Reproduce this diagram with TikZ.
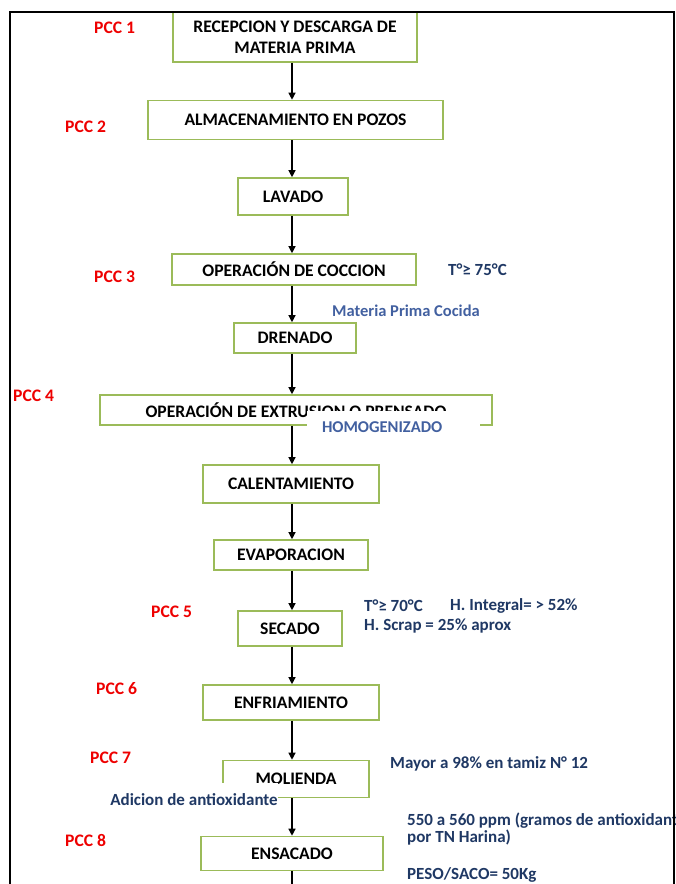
\documentclass[tikz,border=0pt]{standalone}
\usepackage{fontspec}
\setmainfont{Carlito}
\usetikzlibrary{arrows.meta}
\definecolor{verdecaja}{RGB}{155,187,89}
\definecolor{rojopcc}{RGB}{238,0,0}
\definecolor{azulnota}{RGB}{31,56,100}
\definecolor{azulclaro}{RGB}{66,96,160}
\tikzset{
  paso/.style={draw=verdecaja,line width=1.6pt,fill=white,inner sep=0pt,align=center,
               font=\fontsize{17.6}{20.5}\selectfont\bfseries},
  pcc/.style={anchor=west,inner sep=0pt,text=rojopcc,font=\fontsize{17.6}{20}\selectfont\bfseries},
  nota/.style={anchor=west,inner sep=0pt,text=azulnota,font=\fontsize{17}{20}\selectfont\bfseries},
  notaclara/.style={nota,text=azulclaro,font=\fontsize{16.5}{20}\selectfont\bfseries},
  tapa/.style={fill=white,inner sep=0pt},
  flujo/.style={-{Triangle[length=7pt,width=7pt]},line width=1.2pt},
}

\begin{document}
\begin{tikzpicture}[x=1pt,y=-1pt]
  \useasboundingbox (0,0) rectangle (676,884);
  \clip (0,0) rectangle (676,884);
  \coordinate (eje) at (292,0);

  % pasos del proceso
  \node[paso,minimum width=244pt,minimum height=50pt] (recep) at (295,37) {RECEPCION Y DESCARGA DE\\MATERIA PRIMA};
  \node[paso,minimum width=295pt,minimum height=39pt] (almac) at (295.5,120) {ALMACENAMIENTO EN POZOS};
  \node[paso,minimum width=110pt,minimum height=37pt] (lavado) at (293,196.5) {LAVADO};
  \node[paso,minimum width=244pt,minimum height=31pt] (coccion) at (294,269.5) {OPERACIÓN DE COCCION};
  \node[paso,minimum width=122pt,minimum height=30pt] (drenado) at (295,338) {DRENADO};
  \node[paso,minimum width=392pt,minimum height=30pt] (extrus) at (296,410) {OPERACIÓN DE EXTRUSION O PRENSADO};
  \node[paso,minimum width=176pt,minimum height=38pt] (calent) at (291,484) {CALENTAMIENTO};
  \node[paso,minimum width=154pt,minimum height=30pt] (evapor) at (291,555) {EVAPORACION};
  \node[paso,minimum width=104pt,minimum height=35pt] (secado) at (290,628.5) {SECADO};
  \node[paso,minimum width=176pt,minimum height=35pt] (enfria) at (291,702.5) {ENFRIAMIENTO};
  \node[paso,minimum width=146pt,minimum height=37pt] (molienda) at (296,779) {MOLIENDA};
  \node[paso,minimum width=182pt,minimum height=34pt] (ensacado) at (292,853.5) {ENSACADO};

  % etiquetas con fondo blanco que tapan parte de las cajas
  \node[tapa,minimum height=32pt,text width=143pt,inner xsep=15pt,align=left,
        text=azulclaro,font=\fontsize{16.5}{20}\selectfont\bfseries] (homog) at (393.5,427) {HOMOGENIZADO};
  \node[tapa,minimum width=166pt,minimum height=34pt,text=azulnota,
        font=\fontsize{17}{20}\selectfont\bfseries] (adicion) at (194,800) {Adicion de antioxidante};

  % flechas
  \foreach \a/\b in {recep/almac,almac/lavado,lavado/coccion,coccion/drenado,drenado/extrus,
                     extrus/calent,calent/evapor,evapor/secado,secado/enfria,enfria/molienda,molienda/ensacado}
    \draw[flujo] (\a.south -| eje) -- (\b.north -| eje);
  \coordinate (fin) at (292,884);
  \draw[line width=1.2pt] (ensacado.south -| eje) -- (fin);

  % puntos criticos de control
  \node[pcc] (p1) at (94,28) {PCC 1};
  \node[pcc] (p2) at (65,127) {PCC 2};
  \node[pcc] (p3) at (94,277) {PCC 3};
  \node[pcc] (p4) at (13,396) {PCC 4};
  \node[pcc] (p5) at (151,612) {PCC 5};
  \node[pcc] (p6) at (96,689) {PCC 6};
  \node[pcc] (p7) at (90,758) {PCC 7};
  \node[pcc] (p8) at (65,840) {PCC 8};

  % notas
  \node[nota] (t1) at (448,270) {T°≥ 75°C};
  \node[notaclara] (mpc) at (332,311) {Materia Prima Cocida};
  \node[nota] (t2) at (364,606) {T°≥ 70°C};
  \node[nota] (hi) at (450,606) {H. Integral= > 52\%};
  \node[nota] (hs) at (364,626) {H. Scrap = 25\% aprox};
  \node[nota] (tamiz) at (390,764) {Mayor a 98\% en tamiz N° 12};
  \node[nota] (ppm) at (407,821) {550 a 560 ppm (gramos de antioxidante};
  \node[nota] (harina) at (407,838) {por TN Harina)};
  \node[nota] (peso) at (407,875) {PESO/SACO= 50Kg};

  % marco
  \draw[line width=2pt] (10,884) -- (10,12) -- (674,12) -- (674,884);
\end{tikzpicture}
\end{document}
